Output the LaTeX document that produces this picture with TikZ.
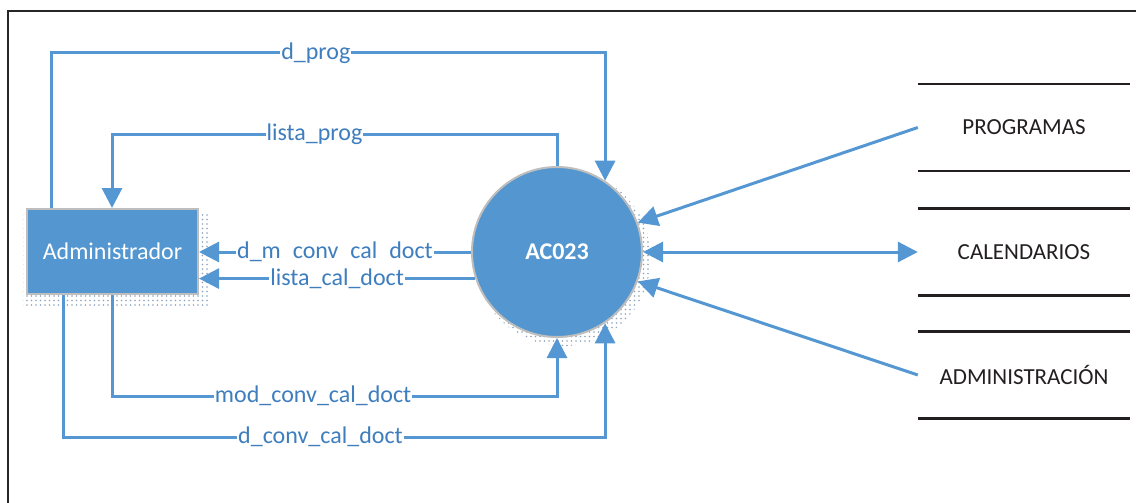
\documentclass[tikz,border=0pt]{standalone}
\usepackage{fontspec}
\setmainfont{Carlito}
\usetikzlibrary{arrows.meta,calc,patterns.meta}
\definecolor{flowblue}{RGB}{84,151,210}
\definecolor{lblblue}{RGB}{62,126,190}
\definecolor{fillblue}{RGB}{83,150,208}
\definecolor{shadowdot}{RGB}{140,162,188}
\definecolor{storeink}{RGB}{35,31,32}
\definecolor{rimgray}{RGB}{190,190,190}
\tikzset{
  flow/.style={draw=flowblue, line width=3pt, -{Triangle[length=20pt,width=20pt]}},
  biflow/.style={draw=flowblue, line width=3pt, {Triangle[length=20pt,width=20pt]}-{Triangle[length=20pt,width=20pt]}},
  lbl/.style={fill=white, text=lblblue, inner sep=1pt, font=\fontsize{24}{28}\selectfont},
  entity/.style={rectangle, fill=fillblue, draw=rimgray, line width=2pt, minimum width=171pt, minimum height=85pt, text=white, font=\fontsize{24}{28}\selectfont, inner sep=0pt},
  process/.style={circle, fill=fillblue, draw=rimgray, line width=2pt, minimum size=170pt, text=white, font=\fontsize{24}{28}\selectfont\bfseries, inner sep=0pt},
  store/.style={rectangle, minimum width=212pt, minimum height=87pt, text=storeink, font=\fontsize{23}{28}\selectfont, inner sep=0pt},
  storeline/.style={draw=storeink, line width=2.5pt},
  dotshadow/.style={pattern={Dots[distance=4.5pt,radius=0.9pt]}, pattern color=shadowdot},
  frameline/.style={draw=black!85, line width=1.5pt}
}
\begin{document}
\begin{tikzpicture}[x=1pt,y=-1pt]
\useasboundingbox (0,0) rectangle (1136,503);
% frame
\draw[frameline] (8,503) -- (8,11) -- (1136,11);
% shadows
\path[dotshadow] (23,213) rectangle (209,307);
\path[dotshadow] (563,258) circle (88);
% nodes
\node[entity] (admin) at (112.5,251.5) {Administrador};
\node[process] (ac) at (557,252) {AC023};
\node[store] (prog) at (1024,127.5) {PROGRAMAS};
\node[store] (cal) at (1024,252) {CALENDARIOS};
\node[store] (adm) at (1024,375) {ADMINISTRACIÓN};
\foreach \s in {prog,cal,adm}{
  \draw[storeline] (\s.north west) -- (\s.north east);
  \draw[storeline] (\s.south west) -- (\s.south east);
}
% helper rows
\coordinate (r1) at (0,53);
\coordinate (r2) at (0,134);
\coordinate (r3) at (0,396);
\coordinate (r4) at (0,437);
% flows
\draw[flow] ($(admin.north west)+(25,0)$) |- node[lbl,pos=0.739]{d\_prog} (ac.56 |- r1) -- (ac.56);
\draw[flow] (ac.north) -- (ac.north |- r2) -| node[lbl,pos=0.2725]{lista\_prog} ($(admin.north west)+(86,0)$);
\draw[flow] (ac.west) -- node[lbl]{d\_m\phantom{\_}conv\phantom{\_}cal\phantom{\_}doct} (admin.east |- ac.west);
\draw[flow] (ac.198.5) -- node[lbl]{lista\_cal\_doct} (admin.east |- ac.198.5);
\draw[flow] ($(admin.south west)+(86,0)$) |- node[lbl,pos=0.726]{mod\_conv\_cal\_doct} (ac.south |- r3) -- (ac.south);
\draw[flow] ($(admin.south west)+(37,0)$) |- node[lbl,pos=0.7375]{d\_conv\_cal\_doct} (ac.304 |- r4) -- (ac.304);
\draw[flow] (prog.west) -- (ac.20);
\draw[biflow] (ac.east) -- (cal.west);
\draw[flow] (adm.west) -- (ac.340.5);
\end{tikzpicture}
\end{document}
